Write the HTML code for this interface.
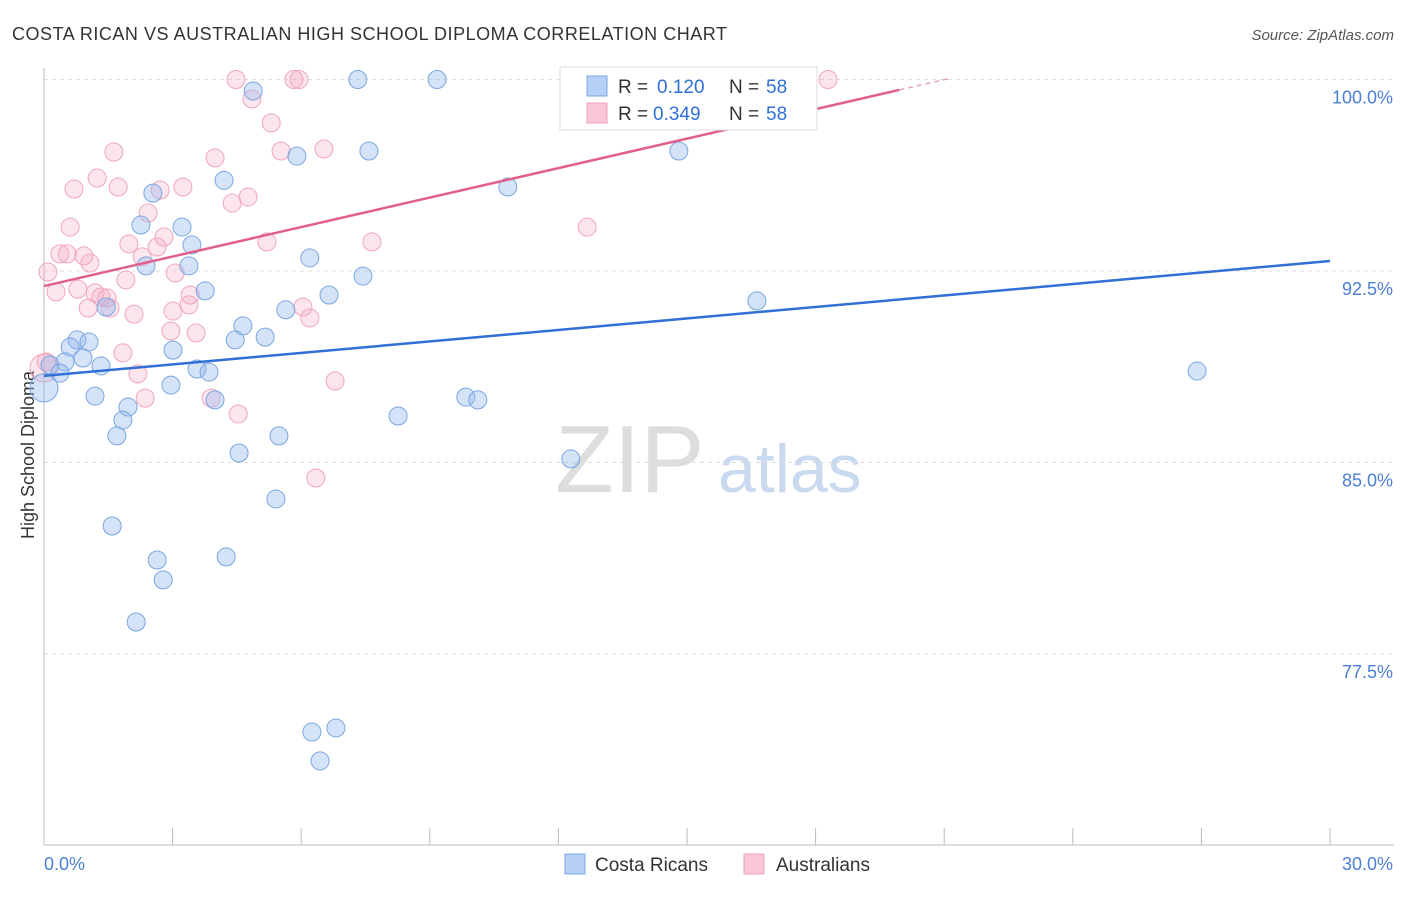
<!DOCTYPE html>
<html><head><meta charset="utf-8"><style>
body{margin:0;background:#fff;font-family:"Liberation Sans",sans-serif}
svg text{font-family:"Liberation Sans",sans-serif}
</style></head><body>
<svg id="chart" width="1406" height="892">
<text x="12" y="40" font-size="18" fill="#333" textLength="715">COSTA RICAN VS AUSTRALIAN HIGH SCHOOL DIPLOMA CORRELATION CHART</text>
<text x="1394" y="40" font-size="15" fill="#555" font-style="italic" text-anchor="end">Source: ZipAtlas.com</text>
<text x="34" y="455" font-size="18" fill="#333" text-anchor="middle" transform="rotate(-90 34 455)">High School Diploma</text>
<text x="555" y="492" font-size="96" fill="#ddd" font-family="Liberation Serif">ZIP</text>
<text x="718" y="492" font-size="68" fill="#c9d9f0">atlas</text>
<g id="grid"></g><g id="pts"></g><g id="lines"></g>
<g>
<rect x="560" y="67" width="257" height="63" fill="#fff" stroke="#ddd"/>
<rect x="587" y="76" width="20" height="20" fill="#b7d0f5" stroke="#7aa7e0"/>
<rect x="587" y="103" width="20" height="20" fill="#f9c6d6" stroke="#f0a0b8"/>
<text x="618" y="93" font-size="19" fill="#333">R =</text>
<text x="657" y="93" font-size="19" fill="#2f6fd6">0.120</text>
<text x="729" y="93" font-size="19" fill="#333">N =</text>
<text x="766" y="93" font-size="19" fill="#2f6fd6">58</text>
<text x="618" y="120" font-size="19" fill="#333">R =</text>
<text x="653" y="120" font-size="19" fill="#2f6fd6">0.349</text>
<text x="729" y="120" font-size="19" fill="#333">N =</text>
<text x="766" y="120" font-size="19" fill="#2f6fd6">58</text>
</g>
<g>
<rect x="565" y="854" width="20" height="20" fill="#b7d0f5" stroke="#7aa7e0"/>
<text x="595" y="871" font-size="19" fill="#333">Costa Ricans</text>
<rect x="744" y="854" width="20" height="20" fill="#f9c6d6" stroke="#f0a0b8"/>
<text x="776" y="871" font-size="19" fill="#333">Australians</text>
</g>
</svg>
<script>
const blueX=[4.88,7.32,9.17,5.90,7.58,14.81,4.20,2.54,10.82,2.26,3.22,3.45,2.38,3.38,6.20,7.44,3.76,6.65,5.64,1.45,16.63,4.64,4.46,5.16,0.77,1.05,0.61,3.01,0.91,0.49,0.14,0.37,1.33,3.57,3.85,26.9,2.96,1.19,9.84,10.12,3.99,1.96,1.84,8.26,1.70,5.48,4.55,12.29,5.41,1.59,2.64,4.25,2.78,2.15,6.25,6.81,6.44,0.0];
const blueY=[99.55,100,100,97.0,97.2,97.2,96.05,95.55,95.79,94.3,94.22,93.52,92.7,92.7,93.01,92.3,91.72,91.56,90.98,91.09,91.33,90.35,89.8,89.91,89.8,89.72,89.52,89.4,89.09,88.94,88.82,88.5,88.78,88.66,88.54,88.58,88.03,87.6,87.56,87.45,87.45,87.17,86.66,86.82,86.04,86.04,85.37,85.14,83.57,82.51,81.18,81.3,80.4,78.75,74.44,74.6,73.31,87.92];
const pinkX=[4.48,5.83,5.95,12.34,18.29,4.85,5.30,1.63,3.99,5.53,6.53,1.24,0.70,1.73,3.24,2.71,4.76,4.39,2.43,0.61,12.67,1.98,2.64,2.80,5.20,7.65,0.37,0.54,0.93,1.07,2.29,0.09,3.06,1.91,0.28,0.79,1.19,1.33,1.47,1.03,1.54,3.41,3.38,3.01,6.04,6.20,2.10,2.96,3.55,1.84,0.05,2.19,6.79,2.36,3.90,4.53,6.34,0.0];
const pinkY=[100,100,100,100,100,99.24,98.3,97.16,96.93,97.2,97.28,96.14,95.71,95.79,95.79,95.67,95.4,95.16,94.77,94.22,94.22,93.56,93.44,93.83,93.64,93.64,93.17,93.17,93.09,92.81,93.05,92.46,92.42,92.15,91.68,91.79,91.64,91.48,91.44,91.05,91.05,91.56,91.17,90.93,91.09,90.66,90.81,90.15,90.07,89.29,88.94,88.47,88.19,87.52,87.52,86.9,84.39,88.7];
const blueTrend=[88.39,92.89];
const pinkTrend=[91.91,99.59];
const pinkSolidEnd=19.95, pinkDashEnd=21.1;
const yTicks=[100,92.5,85,77.5];
const yTickLabels=["100.0%","92.5%","85.0%","77.5%"];
const NS="http://www.w3.org/2000/svg";
const X=v=>44+v*1286/30, Y=v=>79.5+(100-v)*25.53;
function mk(tag,attrs,parent){const e=document.createElementNS(NS,tag);for(const k in attrs)e.setAttribute(k,attrs[k]);document.getElementById(parent).appendChild(e);return e;}
yTicks.forEach((t,i)=>{
 let l=mk('line',{x1:44,x2:1394,y1:Y(t),y2:Y(t),stroke:'#ddd','stroke-dasharray':'4,4'},'grid');
 
 
 let tx=mk('text',{x:1393,y:Y(t)+24,'font-size':18,fill:'#4a7fd4','text-anchor':'end'},'grid');tx.textContent=yTickLabels[i];
 
 
});
let ax=mk('line',{x1:44,x2:44,y1:68,y2:845,stroke:'#bbb'},'grid');


let bx=mk('line',{x1:44,x2:1394,y1:845,y2:845,stroke:'#bbb'},'grid');


for(let i=0;i<=10;i++){let t=mk('line',{x1:X(i*3),x2:X(i*3),y1:828,y2:845,stroke:'#bbb'},'grid');
 
 }
let xl=mk('text',{x:44,y:870,'font-size':18,fill:'#4a7fd4'},'grid');xl.textContent='0.0%';


let xr=mk('text',{x:1393,y:870,'font-size':18,fill:'#4a7fd4','text-anchor':'end'},'grid');xr.textContent='30.0%';


function pts(xs,ys,fill,stroke,name){xs.forEach((x,i)=>{const big=i===xs.length-1;
 let c=mk('circle',{cx:X(x),cy:Y(ys[i]),r:big?14:9,fill:fill,stroke:stroke,'stroke-width':1},'pts');
 
 });}
pts(pinkX,pinkY,'rgba(245,170,195,0.3)','#f0a6bd','australian-point');
pts(blueX,blueY,'rgba(150,185,240,0.4)','#7aa7e0','costa-rican-point');
let bl=mk('line',{x1:X(0),y1:Y(blueTrend[0]),x2:X(30),y2:Y(blueTrend[1]),stroke:'#2f6fd6','stroke-width':2.5},'lines');


const ps=(pinkTrend[1]-pinkTrend[0])/pinkSolidEnd;
let pl=mk('line',{x1:X(0),y1:Y(pinkTrend[0]),x2:X(pinkSolidEnd),y2:Y(pinkTrend[1]),stroke:'#e0608a','stroke-width':2.5},'lines');


let pd=mk('line',{x1:X(pinkSolidEnd),y1:Y(pinkTrend[1]),x2:X(pinkDashEnd),y2:Y(pinkTrend[0]+ps*pinkDashEnd),stroke:'#e0a0b5','stroke-width':1.5,'stroke-dasharray':'5,4'},'lines');


</script>
</body></html>
